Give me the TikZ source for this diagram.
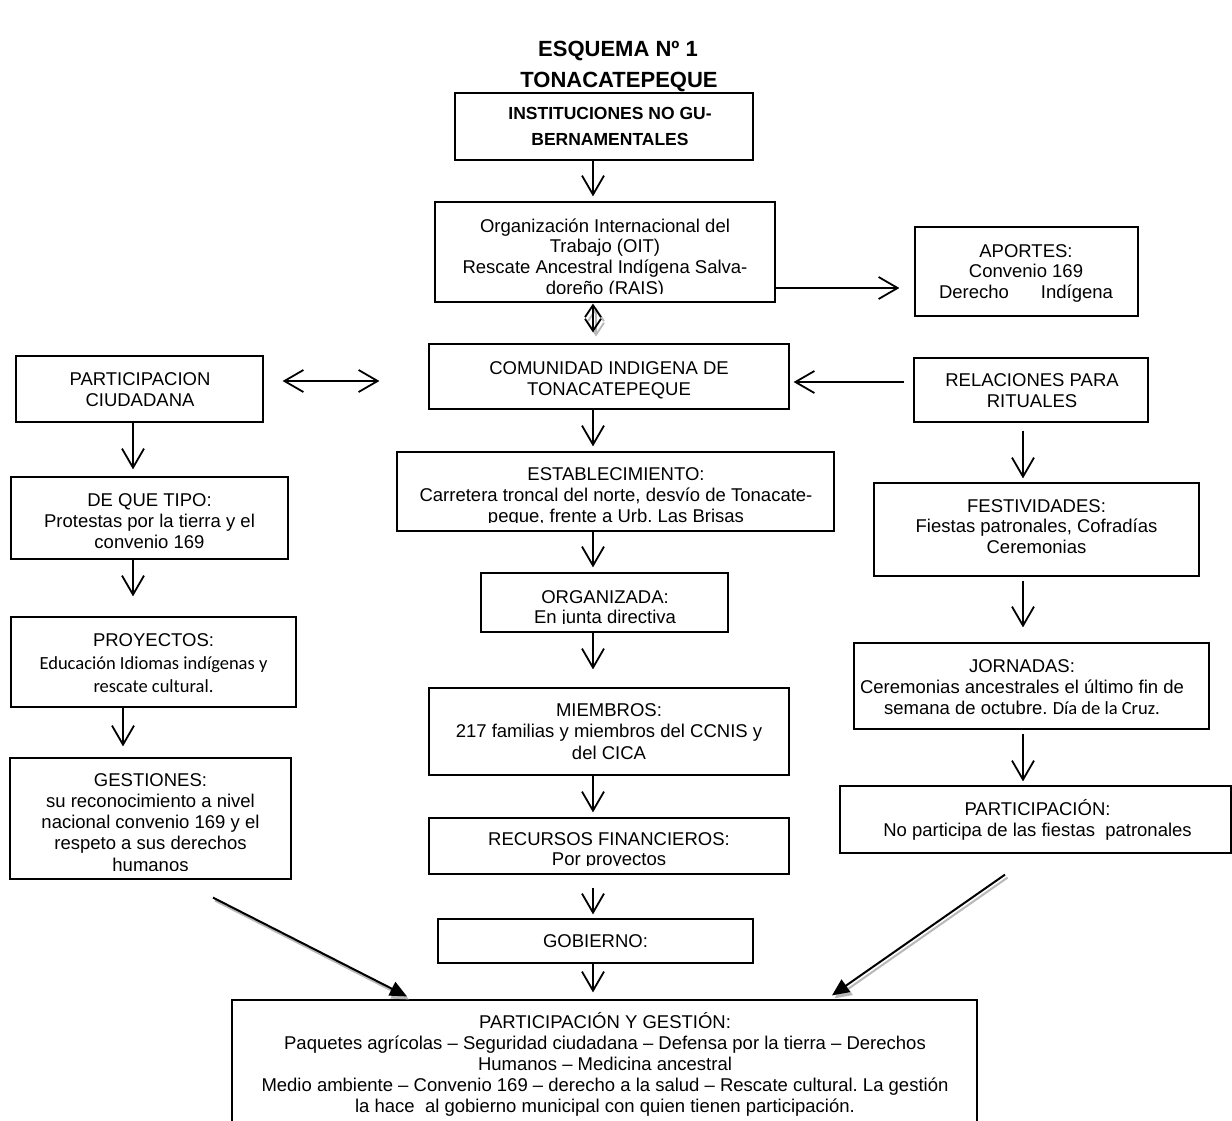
\documentclass[tikz,border=0pt]{standalone}
\usepackage{fontspec}
\setmainfont{Liberation Sans}
\newfontfamily\calfont{Carlito}
\usetikzlibrary{arrows.meta,calc}
\frenchspacing

\tikzset{
  bx/.style={draw, line width=1.2pt, rectangle, inner sep=0pt},
  txt/.style={inner sep=0pt, font=\fontsize{18.5}{21}\selectfont, anchor=base},
  arr/.style={line width=1.8pt, -{Straight Barb[length=19pt,width=22pt]}},
  darr/.style={line width=1.8pt, {Straight Barb[length=19pt,width=22pt]}-{Straight Barb[length=19pt,width=22pt]}},
  diag/.style={line width=2pt, -{Triangle[length=17pt,width=15pt]}},
  shad/.style={line width=2pt, draw=black!28, -{Triangle[length=17pt,width=15pt]}, fill=black!28},
}

\newcommand\mkbox[5]{\node[bx, minimum width={(#4)-(#2)}, minimum height={(#5)-(#3)}] (#1) at ({((#2)+(#4))/2},{((#3)+(#5))/2}) {};}
\newcommand\bxt[9]{%
  \mkbox{#1}{#2}{#3}{#4}{#5}
  \begin{scope}
    \clip (#2,#3) rectangle (#4,{#5-9});
    \foreach \t [count=\i from 0] in {#9} {\node[txt] (#1-\i) at (#6,{#7+\i*#8}) {\t};}
  \end{scope}}

\begin{document}
\frenchspacing
\begin{tikzpicture}[x=1pt,y=-1pt]
\fill[white] (0,0) rectangle (1232,1120);
\path[use as bounding box] (0,0) rectangle (1232,1120);

% title
\node[inner sep=0pt, anchor=base, font=\bfseries\fontsize{22}{25}\selectfont] (title1) at (618,56) {ESQUEMA Nº 1};
\node[inner sep=0pt, anchor=base, font=\bfseries\fontsize{22}{25}\selectfont] (title2) at (619,87) {TONACATEPEQUE};

% column coordinates
\coordinate (cA) at (593,0);
\coordinate (cL1) at (133,0);
\coordinate (cL2) at (123,0);
\coordinate (cR) at (1023,0);
\coordinate (h1) at (0,288);
\coordinate (h2) at (0,381);
\coordinate (h3) at (0,382);

% boxes
\bxt{inst}{455}{93}{753}{160}{610}{119}{26}{{\bfseries\fontsize{17.5}{20}\selectfont INSTITUCIONES NO GU-},{\bfseries\fontsize{17.5}{20}\selectfont BERNAMENTALES}}
\bxt{oit}{435}{202}{775}{302}{605}{232}{20.7}{Organización Internacional del, Trabajo (OIT), Rescate Ancestral Indígena Salva-, doreño (RAIS)}
\bxt{aport}{915}{227}{1138}{316}{1026}{257}{20.5}{APORTES:, Convenio 169, Derecho\hspace{32pt}Indígena}
\bxt{part}{16}{356}{263}{422}{140}{385}{21}{PARTICIPACION, CIUDADANA}
\bxt{com}{429}{344}{789}{409}{609}{374}{21.5}{COMUNIDAD INDIGENA DE, TONACATEPEQUE}
\bxt{rel}{914}{358}{1148}{422}{1032}{386}{21}{RELACIONES PARA, RITUALES}
\bxt{est}{397}{452}{834}{531}{616}{480}{21}{ESTABLECIMIENTO:, {Carretera troncal del norte, desvío de Tonacate-}, {peque, frente a Urb. Las Brisas}}
\bxt{org}{481}{573}{728}{632}{605}{603}{20.5}{ORGANIZADA:, En junta directiva}
\bxt{miem}{429}{688}{789}{775}{609}{716}{21.5}{MIEMBROS:, 217 familias y miembros del CCNIS y, del CICA}
\bxt{rec}{429}{818}{789}{874}{609}{845}{20}{RECURSOS FINANCIEROS:, Por proyectos}
\bxt{gob}{438}{919}{753}{963}{595.5}{947}{21}{GOBIERNO:}
\bxt{deq}{11}{477}{288}{559}{149.5}{506}{21}{DE QUE TIPO:, Protestas por la tierra y el, convenio 169}
\bxt{proy}{11}{617}{296}{707}{153.5}{646}{23}{PROYECTOS:, {\calfont Educación Idiomas indígenas y}, {\calfont rescate cultural.}}
\bxt{gest}{10}{758}{291}{879}{150.5}{786}{21.3}{GESTIONES:, su reconocimiento a nivel, nacional convenio 169 y el, respeto a sus derechos, humanos}
\bxt{fest}{874}{483}{1199}{576}{1036.5}{512}{20.7}{FESTIVIDADES:, {Fiestas patronales, Cofradías}, Ceremonias}
\bxt{jorn}{854}{643}{1209}{729}{1022}{672}{21}{JORNADAS:, Ceremonias ancestrales el último fin de, semana de octubre. {\calfont Día de la Cruz.}}
\bxt{partR}{840}{786}{1231}{853}{1037.5}{815}{21}{PARTICIPACIÓN:, No participa de las fiestas\ \ patronales}
\bxt{pyg}{232}{1000}{977}{1124}{605}{1028}{21}{PARTICIPACIÓN Y GESTIÓN:, Paquetes agrícolas – Seguridad ciudadana – Defensa por la tierra – Derechos, Humanos – Medicina ancestral, Medio ambiente – Convenio 169 – derecho a la salud – Rescate cultural. La gestión, la hace\ \ al gobierno municipal con quien tienen participación.}

% connectors: centre column
\draw[arr, shorten >=5pt] (inst.south -| cA) -- (oit.north -| cA);
\draw[arr, shorten >=15pt] (oit.east |- h1) -- (aport.west |- h1);
\draw[line width=1.8pt, black!28, {Straight Barb[length=12pt,width=16pt]}-{Straight Barb[length=12pt,width=16pt]}] ($(oit.south -| cA)+(3,5)$) -- ($(com.north -| cA)+(3,-7)$);
\draw[line width=1.8pt, {Straight Barb[length=12pt,width=16pt]}-{Straight Barb[length=12pt,width=16pt]}] ($(oit.south -| cA)+(0,1)$) -- ($(com.north -| cA)+(0,-11)$);
\draw[darr, shorten <=19pt, shorten >=49pt] (part.east |- h2) -- (com.west |- h2);
\draw[arr, shorten <=9pt, shorten >=4pt] (rel.west |- h3) -- (com.east |- h3);
\draw[arr, shorten >=5pt] (com.south -| cA) -- (est.north -| cA);
\draw[arr, shorten >=5pt] (est.south -| cA) -- (org.north -| cA);
\draw[arr, shorten >=18pt] (org.south -| cA) -- (miem.north -| cA);
\draw[arr, shorten >=5pt] (miem.south -| cA) -- (rec.north -| cA);
\draw[arr, shorten <=13pt, shorten >=4pt] (rec.south -| cA) -- (gob.north -| cA);
\draw[arr, shorten >=7pt] (gob.south -| cA) -- (pyg.north -| cA);

% left column
\draw[arr, shorten >=7pt] (part.south -| cL1) -- (deq.north -| cL1);
\draw[arr, shorten >=20pt] (deq.south -| cL1) -- (proy.north -| cL1);
\draw[arr, shorten >=11pt] (proy.south -| cL2) -- (gest.north -| cL2);

% right column
\draw[arr, shorten <=8pt, shorten >=4pt] (rel.south -| cR) -- (fest.north -| cR);
\draw[arr, shorten <=4pt, shorten >=15pt] (fest.south -| cR) -- (jorn.north -| cR);
\draw[arr, shorten <=4pt, shorten >=4pt] (jorn.south -| cR) -- (partR.north -| cR);

% diagonal arrows with shadow
\draw[shad] ($(gest.south)+(64.5,21)$) -- ($(pyg.north)+(-195.5,0)$);
\draw[diag] ($(gest.south)+(62.5,18)$) -- ($(pyg.north)+(-197.5,-3)$);
\draw[shad] ($(partR.south)+(-28,24)$) -- ($(pyg.north)+(230,-1)$);
\draw[diag] ($(partR.south)+(-30.5,21)$) -- ($(pyg.north)+(227.5,-4)$);
\end{tikzpicture}
\end{document}
